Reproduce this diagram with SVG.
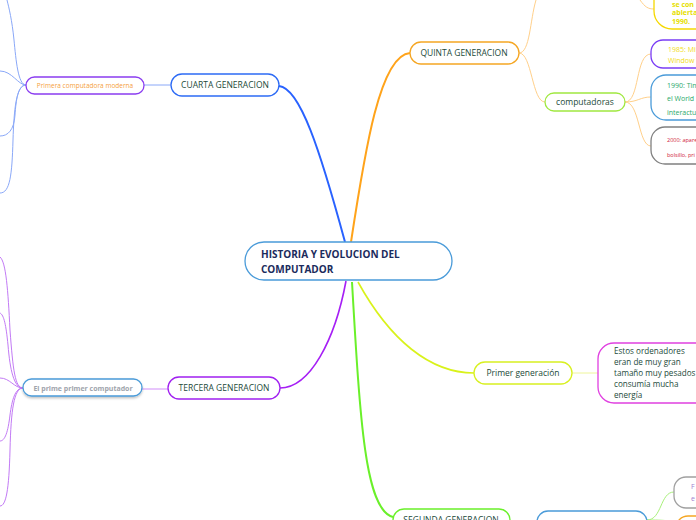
<svg xmlns="http://www.w3.org/2000/svg" width="696" height="520" viewBox="0 0 696 520">
<style>
text{font-family:"Open Sans","Noto Sans","Liberation Sans",sans-serif;}
.n{fill:#fff;stroke-width:1.3;}
.t{fill:#1c4a3a;font-size:8.5px;}
.e{fill:#1c4a3a;font-size:8.1px;}
.c{fill:none;}
</style>
<defs>
<filter id="sh" x="-10%" y="-20%" width="120%" height="160%"><feDropShadow dx="0" dy="1.5" stdDeviation="1" flood-color="#000" flood-opacity="0.25"/></filter>
</defs>
<rect width="696" height="520" fill="#fff"/>
<g id="connectors">
<path class="c" d="M279,86 C300,88 320,150 345,242" stroke="#2962ff" stroke-width="2"/>
<path class="c" d="M351,242 C365,150 380,55 410,53" stroke="#ffa31a" stroke-width="2"/>
<path class="c" d="M346,281 C335,340 310,388 280,388" stroke="#a61ff5" stroke-width="1.6"/>
<path class="c" d="M352,282 C360,420 365,510 393,517" stroke="#6af02a" stroke-width="2"/>
<path class="c" d="M358,282 C390,340 430,373 474,373" stroke="#d9f21a" stroke-width="1.6"/>
<path class="c" d="M144,85 L171,85" stroke="#8aa8f8" stroke-width="1"/>
<path class="c" d="M26,85 C18,85 16,60 14,40 C12,20 9,8 7,0" stroke="#8aa8f8" stroke-width="1"/>
<path class="c" d="M26,85 C18,85 12,71 0,71" stroke="#8aa8f8" stroke-width="1"/>
<path class="c" d="M26,85 C18,85 16,100 15,115 C14,130 8,136 0,136" stroke="#8aa8f8" stroke-width="1"/>
<path class="c" d="M26,85 C16,85 14,110 13,140 C12,175 10,193 0,193" stroke="#8aa8f8" stroke-width="1"/>
<path class="c" d="M142,389 L168,389" stroke="#d9a0fa" stroke-width="1.2"/>
<path class="c" d="M23,388 C15,388 13,370 10,330 C8,290 6,262 0,257" stroke="#c27af5" stroke-width="1"/>
<path class="c" d="M23,388 C14,388 10,370 8,345 C6,325 4,315 0,313" stroke="#c27af5" stroke-width="1"/>
<path class="c" d="M23,388 C14,388 10,378 0,378" stroke="#c27af5" stroke-width="1"/>
<path class="c" d="M23,388 C15,388 12,400 10,415 C8,432 5,441 0,441" stroke="#c27af5" stroke-width="1"/>
<path class="c" d="M23,388 C14,388 11,410 10,450 C9,490 6,506 0,506" stroke="#c27af5" stroke-width="1"/>
<path class="c" d="M519,53 C530,53 530,20 536,0" stroke="#ffd08a" stroke-width="1"/>
<path class="c" d="M519,53 C532,53 532,102 545,102" stroke="#ffd08a" stroke-width="1"/>
<path class="c" d="M640,0 C645,7 648,9 654,9" stroke="#ffd08a" stroke-width="1"/>
<path class="c" d="M625,102 C640,102 635,54 651,54" stroke="#ffd08a" stroke-width="1"/>
<path class="c" d="M625,102 C638,102 640,97 651,97" stroke="#ffd08a" stroke-width="1"/>
<path class="c" d="M625,102 C640,102 638,146 651,146" stroke="#ffd08a" stroke-width="1"/>
<path class="c" d="M572,373 L598,373" stroke="#eef59a" stroke-width="1"/>
<path class="c" d="M647,520 C662,520 660,492 674,492" stroke="#a8f07a" stroke-width="1"/>
<path class="c" d="M647,520 C660,520 664,520 676,522" stroke="#a8f07a" stroke-width="1"/>
</g>
<g id="center">
<rect class="n" x="245" y="242" width="207" height="38" rx="19" stroke="#4a9bd9"/>
<text x="261" y="258" font-size="10" font-weight="bold" fill="#1b2b5c">HISTORIA Y EVOLUCION DEL</text>
<text x="261" y="273" font-size="10" font-weight="bold" fill="#1b2b5c">COMPUTADOR</text>
</g>
<g id="cuarta">
<rect class="n" x="171" y="74" width="108" height="22" rx="11" stroke="#2d6bf5"/>
<text class="t" x="225" y="88" text-anchor="middle">CUARTA GENERACION</text>
</g>
<g id="primera-computadora">
<rect class="n" x="26" y="77" width="118" height="17" rx="8.5" stroke="#8a3cf0"/>
<text x="85" y="88" text-anchor="middle" font-size="6.5" fill="#f5a040">Primera computadora moderna</text>
</g>
<g id="quinta">
<rect class="n" x="410" y="42" width="109" height="22" rx="11" stroke="#f5a623"/>
<text class="t" x="464" y="56" text-anchor="middle">QUINTA GENERACION</text>
</g>
<g id="yellow-node">
<rect class="n" x="654" y="-30" width="80" height="59" rx="18" stroke="#f5d800"/>
<text x="672" y="7" font-size="7" font-weight="bold" fill="#e6e000">se con</text>
<text x="672" y="15" font-size="7" font-weight="bold" fill="#e6e000">abierta</text>
<text x="672" y="24" font-size="7" font-weight="bold" fill="#e6e000">1990.</text>
</g>
<g id="computadoras">
<rect class="n" x="545" y="93" width="80" height="18" rx="9" stroke="#a0e840"/>
<text class="t" x="585" y="105" text-anchor="middle">computadoras</text>
</g>
<g id="n1985">
<rect class="n" x="651" y="40" width="80" height="28" rx="12" stroke="#7a3cf5"/>
<text x="668" y="52" font-size="7" fill="#f2dc20">1985: Mi</text>
<text x="668" y="63" font-size="7" fill="#f2dc20">Window</text>
</g>
<g id="n1990">
<rect class="n" x="651" y="75" width="80" height="45" rx="15" stroke="#4a9bd9"/>
<text x="667" y="88" font-size="7" fill="#2aa86a">1990: Tim</text>
<text x="667" y="101" font-size="7" fill="#2aa86a">el World</text>
<text x="667" y="115" font-size="7" fill="#2aa86a">interactu</text>
</g>
<g id="n2000">
<rect class="n" x="651" y="127" width="80" height="37" rx="14" stroke="#808080"/>
<text x="667" y="142" font-size="5.5" fill="#d0203a">2000: apare</text>
<text x="667" y="157" font-size="5.5" fill="#d0203a">bolsillo, pri</text>
</g>
<g id="primer-generacion">
<rect class="n" x="474" y="362" width="98" height="22" rx="11" stroke="#d8f020"/>
<text class="t" x="523" y="376" text-anchor="middle">Primer generación</text>
</g>
<g id="estos">
<rect class="n" x="598" y="343" width="120" height="60" rx="16" stroke="#e040e0"/>
<text class="e" x="614" y="354">Estos ordenadores</text>
<text class="e" x="614" y="365">eran de muy gran</text>
<text class="e" x="614" y="376">tamaño muy pesados</text>
<text class="e" x="614" y="387">consumía mucha</text>
<text class="e" x="614" y="398">energía</text>
</g>
<g id="tercera">
<rect class="n" x="168" y="377" width="112" height="22" rx="11" stroke="#a020f0"/>
<text class="t" x="224" y="391" text-anchor="middle">TERCERA GENERACION</text>
</g>
<g id="el-prime">
<rect class="n" x="23" y="379" width="119" height="17" rx="8.5" stroke="#4a9bd9" filter="url(#sh)"/>
<text x="83" y="391" text-anchor="middle" font-size="7" font-weight="bold" fill="#a0a4ac">El prime primer computador</text>
</g>
<g id="segunda">
<rect class="n" x="393" y="509" width="117" height="22" rx="11" stroke="#6af02a"/>
<text class="t" x="451" y="523" text-anchor="middle">SEGUNDA GENERACION</text>
</g>
<g id="segunda-child">
<rect class="n" x="537" y="511" width="110" height="22" rx="11" stroke="#4a9bd9"/>
</g>
<g id="gray-node">
<rect class="n" x="674" y="477" width="60" height="31" rx="12" stroke="#a0a0a0"/>
<text x="691" y="489" font-size="7" fill="#a080d0">F</text>
<text x="691" y="501" font-size="7" fill="#a080d0">e</text>
</g>
<g id="orange-node">
<rect class="n" x="676" y="516" width="60" height="30" rx="12" stroke="#f5a623"/>
</g>
</svg>
